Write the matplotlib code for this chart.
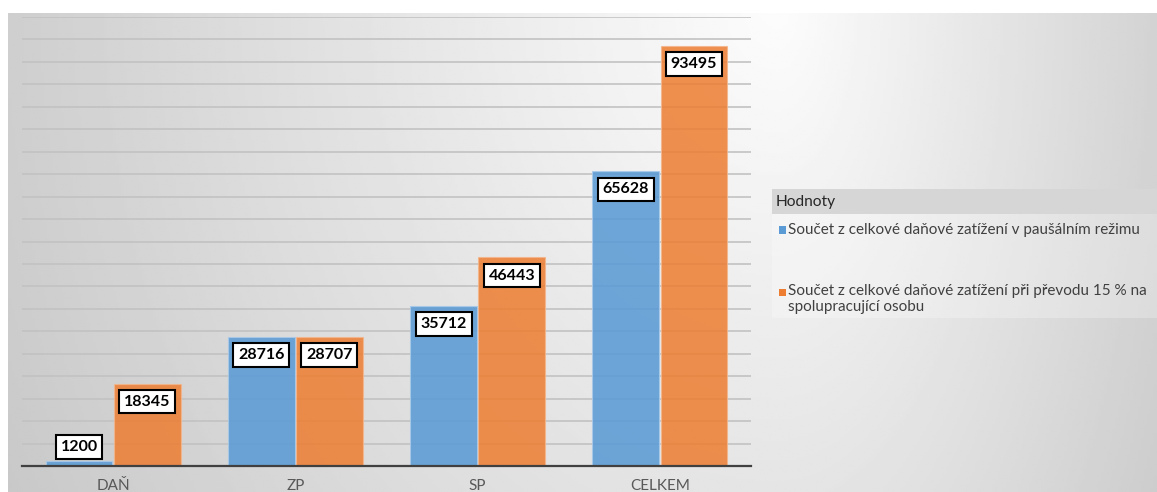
import numpy as np
import matplotlib
matplotlib.use("Agg")
import matplotlib.pyplot as plt
from matplotlib.patches import Rectangle

# data
categories = ["DAŇ", "ZP", "SP", "CELKEM"]
pausal = [1200, 28716, 35712, 65628]
prevod = [18345, 28707, 46443, 93495]
legend_title = "Hodnoty"
series_names = [
    "Součet z celkové daňové zatížení v paušálním režimu",
    "Součet z celkové daňové zatížení při převodu 15 % na\nspolupracující osobu",
]

plt.rcParams['font.family'] = ['Lato', 'DejaVu Sans']

W, H = 1157, 492
fig = plt.figure(figsize=(W / 100, H / 100), dpi=100)
fig.patch.set_facecolor("white")

# gradient background of the chart area
bg = fig.add_axes([8 / W, 0, 1 - 8 / W, 1 - 13 / H], zorder=0)
xs = np.linspace(8, W, 400)
ys = np.linspace(13, H, 200)
X, Y = np.meshgrid(xs, ys)
dx = np.where(X < 780, (780 - X) / 770, (X - 780) / 420)
d = np.sqrt(dx ** 2 + (Y / 950) ** 2)
val = np.clip(0.99 - 0.18 * d, 0.76, 1)
bg.imshow(val, cmap="gray", vmin=0, vmax=1, aspect="auto",
          extent=[0, 1, 0, 1], interpolation="bilinear")
bg.axis("off")

# main plot
ax = fig.add_axes([22 / W, 1 - 466 / H, (751 - 22) / W, (466 - 17) / H], zorder=1)
ax.patch.set_alpha(0)
x = np.arange(len(categories))
w = 0.366
off = 0.187
b1 = ax.bar(x - off, pausal, w, color="#5b9bd5", alpha=0.88,
            edgecolor="#a9c9ea", linewidth=0.8, zorder=3)
b2 = ax.bar(x + off, prevod, w, color="#ed7d31", alpha=0.85,
            edgecolor="#f4b68c", linewidth=0.8, zorder=3)

ax.set_xlim(-0.5, len(categories) - 0.5)
ax.set_ylim(0, 100000)
ax.set_yticks(np.arange(0, 100001, 5000))
ax.yaxis.grid(True, color="#c2c2c2", linewidth=1.2, zorder=1)
ax.set_axisbelow(True)
ax.tick_params(axis="y", left=False, labelleft=False)
ax.tick_params(axis="x", bottom=False, pad=6, labelsize=11, labelcolor="#595959")
ax.set_xticks(x)
ax.set_xticklabels(categories)
for s in ["top", "right", "left"]:
    ax.spines[s].set_visible(False)
ax.spines["bottom"].set_color("#404040")
ax.spines["bottom"].set_linewidth(1.6)
ax.spines["bottom"].set_zorder(4)

# data labels
for bars, vals in [(b1, pausal), (b2, prevod)]:
    for rect, v in zip(bars, vals):
        cx = rect.get_x() + rect.get_width() / 2
        dy = -13 if v > 8000 else 10
        ax.annotate(str(v), (cx, v), xytext=(0, dy), textcoords="offset points",
                    ha="center", va="center", fontsize=11.5, fontweight="bold",
                    color="black", zorder=5,
                    bbox=dict(boxstyle="square,pad=0.3", fc="white",
                              ec="black", lw=1.5))

# legend (pivot chart style)
def fx(px):
    return px / W

def fy(py):
    return 1 - py / H

fig.patches.append(Rectangle((fx(772), fy(214)), fx(W - 772), 25 / H,
                             transform=fig.transFigure, fc="#d6d6d6",
                             ec="none", zorder=2))
fig.patches.append(Rectangle((fx(772), fy(318)), fx(W - 772), 104 / H,
                             transform=fig.transFigure, fc="white", alpha=0.25,
                             ec="none", zorder=2))
fig.text(fx(776), fy(202), legend_title, fontsize=11.2, color="#262626",
         va="center", ha="left", zorder=3)
colors = ["#5b9bd5", "#ed7d31"]
rows_y = [230, 292]
for c, name, ry in zip(colors, series_names, rows_y):
    fig.patches.append(Rectangle((fx(779), fy(ry + 3.5)), 7 / W, 7 / H,
                                 transform=fig.transFigure, fc=c, ec="none",
                                 zorder=3))
    if "\n" in name:
        fig.text(fx(788), fy(ry - 8), name, fontsize=11, color="#404040",
                 va="top", ha="left", linespacing=1.15, zorder=3)
    else:
        fig.text(fx(788), fy(ry), name, fontsize=11, color="#404040",
                 va="center", ha="left", zorder=3)

fig.savefig("out.png", dpi=100)
